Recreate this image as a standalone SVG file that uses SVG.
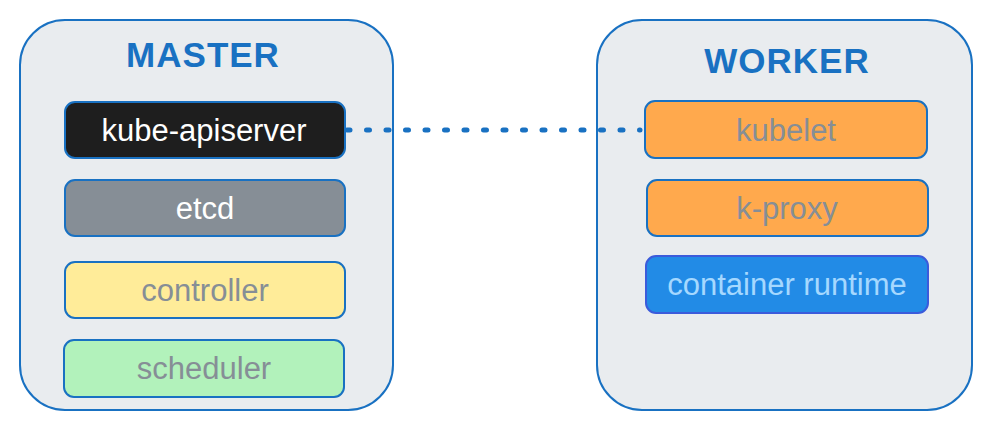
<svg xmlns="http://www.w3.org/2000/svg" width="990" height="430" viewBox="0 0 990 430">
<style>
.cont{fill:#e9ecef;stroke:#1971c2;stroke-width:2}
.box{stroke:#1971c2;stroke-width:2}
.title{font-family:"Liberation Sans",Arial,sans-serif;font-weight:bold;font-size:35px;fill:#1971c2;text-anchor:middle;letter-spacing:1px}
.lbl{font-family:"Liberation Sans",Arial,sans-serif;font-size:31px;text-anchor:middle;dominant-baseline:central}
</style>
<rect width="990" height="430" fill="#ffffff"/>
<g id="master">
<rect class="cont" x="20" y="20" width="373" height="390" rx="45"/>
<text class="title" x="203" y="67">MASTER</text>
</g>
<g id="worker">
<rect class="cont" x="597" y="20" width="375" height="390" rx="45"/>
<text class="title" x="787" y="73">WORKER</text>
</g>
<g id="connectors">
<line x1="347" y1="130" x2="640" y2="130" stroke="#1971c2" stroke-width="5" stroke-linecap="round" stroke-dasharray="3 16.5"/>
</g>
<g id="kube-apiserver">
<rect class="box" x="65" y="102" width="280" height="56" rx="10" fill="#1e1e1e"/>
<text class="lbl" x="204" y="130" fill="#ffffff">kube-apiserver</text>
</g>
<g id="etcd">
<rect class="box" x="65" y="180" width="280" height="56" rx="10" fill="#868e96"/>
<text class="lbl" x="205" y="208" fill="#ffffff">etcd</text>
</g>
<g id="controller">
<rect class="box" x="65" y="262" width="280" height="56" rx="10" fill="#ffec99"/>
<text class="lbl" x="205" y="290" fill="#868e96">controller</text>
</g>
<g id="scheduler">
<rect class="box" x="64" y="340" width="280" height="57" rx="10" fill="#b2f2bb"/>
<text class="lbl" x="204" y="368" fill="#868e96">scheduler</text>
</g>
<g id="kubelet">
<rect class="box" x="645" y="101" width="282" height="57" rx="10" fill="#ffa94d"/>
<text class="lbl" x="786" y="130" fill="#868e96">kubelet</text>
</g>
<g id="k-proxy">
<rect class="box" x="647" y="180" width="281" height="56" rx="10" fill="#ffa94d"/>
<text class="lbl" x="787" y="208" fill="#868e96">k-proxy</text>
</g>
<g id="container-runtime">
<rect x="646" y="256" width="282" height="57" rx="10" fill="#228be6" stroke="#3b5bdb" stroke-width="2"/>
<text class="lbl" x="787" y="284" fill="#a5d8ff">container runtime</text>
</g>
</svg>
